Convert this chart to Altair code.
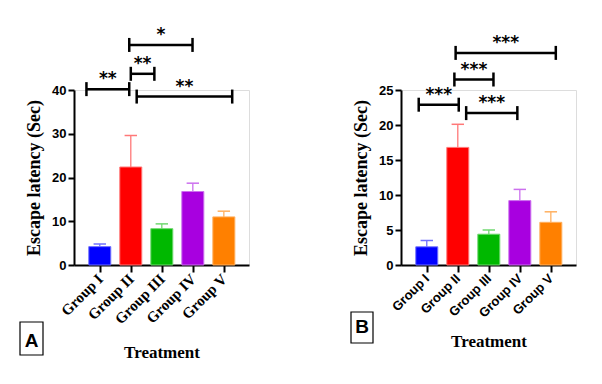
import altair as alt
import pandas as pd

groups = ["Group I", "Group II", "Group III", "Group IV", "Group V"]
idx = [0, 1, 2, 3, 4]
fill_colors = ["#0000FF", "#FF0000", "#00B800", "#A800E0", "#FF8000"]
light_colors = ["#7070FF", "#FF7878", "#70D870", "#CC70EE", "#FFB060"]

a_mean = [4.2, 22.4, 8.3, 16.8, 11.0]
a_err_top = [4.8, 29.6, 9.4, 18.7, 12.3]
b_mean = [2.6, 16.8, 4.4, 9.2, 6.1]
b_err_top = [3.5, 20.1, 5.0, 10.8, 7.6]

a_br_x1 = [-0.43, 1.00, 0.95, 1.19]
a_br_x2 = [0.95, 1.76, 2.99, 4.27]
a_br_y = [40.2, 43.7, 50.3, 38.5]
a_br_lab = ["**", "**", "*", "**"]

b_br_x1 = [-0.26, 0.89, 0.93, 1.27]
b_br_x2 = [1.03, 2.15, 4.16, 2.92]
b_br_y = [22.9, 26.5, 30.3, 21.7]
b_br_lab = ["***", "***", "***", "***"]

XDOM = [-0.67, 4.65]
W, H = 175, 175
label_expr = "['Group I','Group II','Group III','Group IV','Group V'][datum.value]"


def panel(mean, err_top, bx1, bx2, by, blab, ymax, ystep, cap_half, x_label_font, x_label_size,
          x_title_pad, letter, box_x, box_y, letter_xy):
    df = pd.DataFrame({"idx": idx, "group": groups, "mean": mean, "err": err_top})
    df["c1"] = df["idx"] - 0.2
    df["c2"] = df["idx"] + 0.2
    br = pd.DataFrame({"x1": bx1, "x2": bx2, "y": by, "lab": blab})
    br["xm"] = (br["x1"] + br["x2"]) / 2
    caps = pd.DataFrame({"x": bx1 + bx2, "y": by + by})
    caps["lo"] = caps["y"] - cap_half
    caps["hi"] = caps["y"] + cap_half

    xs = alt.Scale(domain=XDOM, nice=False, zero=False)
    ys = alt.Scale(domain=[0, ymax], nice=False, zero=True)
    fill_s = alt.Scale(domain=groups, range=fill_colors)
    stroke_s = alt.Scale(domain=groups, range=light_colors)

    xaxis = alt.Axis(values=idx, labelExpr=label_expr, labelAngle=-45, labelAlign="right",
                     labelBaseline="middle", labelFont=x_label_font, labelFontSize=x_label_size,
                     labelFontWeight="bold", labelColor="black", labelPadding=4,
                     labelOverlap=False, labelBound=False, labelFlush=False,
                     title="Treatment", titleFont="Liberation Serif", titleFontSize=17,
                     titleFontWeight="bold", titleColor="black", titlePadding=x_title_pad,
                     domainColor="black", domainWidth=2, tickColor="black", tickWidth=2,
                     tickSize=7, grid=False)
    yaxis = alt.Axis(values=list(range(0, ymax + 1, ystep)), labelFont="Liberation Sans",
                     labelFontSize=13, labelFontWeight="bold", labelColor="black", labelPadding=2,
                     labelOverlap=False, labelFlush=False,
                     title="Escape latency (Sec)", titleFont="Liberation Serif", titleFontSize=18,
                     titleFontWeight="bold", titleColor="black", titlePadding=8,
                     domainColor="black", domainWidth=2, tickColor="black", tickWidth=2,
                     tickSize=6, grid=False)

    def X(f):
        return alt.X(f, scale=xs, axis=xaxis)

    def Y(f):
        return alt.Y(f, scale=ys, axis=yaxis)

    base = alt.Chart(df)
    err_line = base.mark_rule(strokeWidth=1.3).encode(
        x=X("idx:Q"), y=Y("mean:Q"), y2="err:Q",
        stroke=alt.Stroke("group:N", scale=stroke_s, legend=None))
    err_cap = base.mark_rule(strokeWidth=1.5).encode(
        x=X("c1:Q"), x2="c2:Q", y=Y("err:Q"),
        stroke=alt.Stroke("group:N", scale=stroke_s, legend=None))
    bars = base.mark_bar(size=22, strokeWidth=1).encode(
        x=X("idx:Q"), y=Y("mean:Q"),
        fill=alt.Fill("group:N", scale=fill_s, legend=None),
        stroke=alt.Stroke("group:N", scale=stroke_s, legend=None))

    hlines = alt.Chart(br).mark_rule(strokeWidth=2.5, color="black", clip=False).encode(
        x=X("x1:Q"), x2="x2:Q", y=Y("y:Q"))
    vcaps = alt.Chart(caps).mark_rule(strokeWidth=2.5, color="black", clip=False).encode(
        x=X("x:Q"), y=Y("lo:Q"), y2="hi:Q")
    stars = alt.Chart(br).mark_text(font="DejaVu Sans", fontWeight="bold", fontSize=17,
                                    baseline="middle", dy=-10, color="black").encode(
        x=X("xm:Q"), y=Y("y:Q"), text="lab:N")

    bx0, bx1_, by0, by1 = box_x[0], box_x[1], box_y[0], box_y[1]
    box = alt.Chart(pd.DataFrame({"k": [0]})).mark_rect(fill="white", stroke="black",
                                                         strokeWidth=1.2).encode(
        x=alt.value(bx0), x2=alt.value(bx1_), y=alt.value(by0), y2=alt.value(by1))
    let = alt.Chart(pd.DataFrame({"t": [letter]})).mark_text(
        font="Liberation Sans", fontWeight="bold", fontSize=19, baseline="middle",
        align="center", color="black").encode(
        x=alt.value(letter_xy[0]), y=alt.value(letter_xy[1]), text="t:N")

    return alt.layer(err_line, err_cap, bars, hlines, vcaps, stars, box, let).properties(
        width=W, height=H)


pa = panel(a_mean, a_err_top, a_br_x1, a_br_x2, a_br_y, a_br_lab, 40, 10, 1.6,
           "Liberation Serif", 15, 18, "A", (-54, -31), (232, 265), (-42.5, 251))
pb = panel(b_mean, b_err_top, b_br_x1, b_br_x2, b_br_y, b_br_lab, 25, 5, 1.0,
           "Liberation Sans", 13, 14, "B", (-50, -28), (222, 253), (-39, 237))

chart = alt.hconcat(pa, pb, spacing=99).properties(
    padding={"left": 10, "top": 17, "right": 5, "bottom": 5}
).configure_view(stroke=None).configure(background="white")

chart.save("out.html", embed_options={"renderer": "svg", "actions": False})
